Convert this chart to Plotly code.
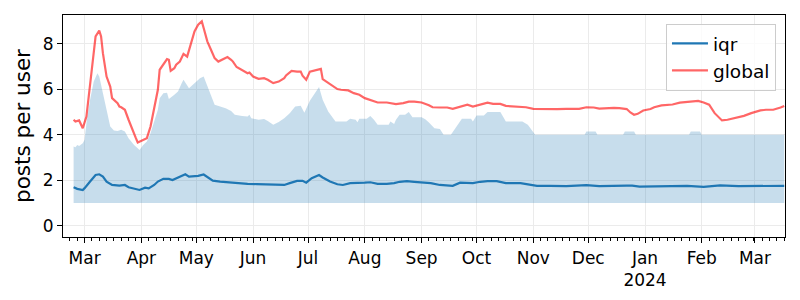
import pandas as pd
import plotly.graph_objects as go

# ---------------- data ----------------
global_dates = [
    "2023-02-23", "2023-02-24", "2023-02-26", "2023-02-27", "2023-02-28", "2023-03-02",
    "2023-03-04", "2023-03-06", "2023-03-07", "2023-03-09", "2023-03-10", "2023-03-11",
    "2023-03-13", "2023-03-15", "2023-03-16", "2023-03-19", "2023-03-20", "2023-03-21",
    "2023-03-23", "2023-03-25", "2023-03-27", "2023-03-29", "2023-03-30", "2023-04-01",
    "2023-04-04", "2023-04-06", "2023-04-08", "2023-04-10", "2023-04-11", "2023-04-13",
    "2023-04-15", "2023-04-16", "2023-04-17", "2023-04-19", "2023-04-20", "2023-04-22",
    "2023-04-24", "2023-04-26", "2023-04-28", "2023-04-30", "2023-05-02", "2023-05-04",
    "2023-05-05", "2023-05-07", "2023-05-09", "2023-05-11", "2023-05-13", "2023-05-15",
    "2023-05-18", "2023-05-20", "2023-05-21", "2023-05-23", "2023-05-26", "2023-05-29",
    "2023-05-30", "2023-06-01", "2023-06-04", "2023-06-07", "2023-06-09", "2023-06-12",
    "2023-06-15", "2023-06-18", "2023-06-19", "2023-06-22", "2023-06-25", "2023-06-27",
    "2023-06-28", "2023-06-30", "2023-07-02", "2023-07-05", "2023-07-08", "2023-07-09",
    "2023-07-12", "2023-07-15", "2023-07-17", "2023-07-19", "2023-07-23", "2023-07-26",
    "2023-07-29", "2023-08-01", "2023-08-05", "2023-08-08", "2023-08-13", "2023-08-17",
    "2023-08-18", "2023-08-22", "2023-08-25", "2023-08-28", "2023-09-01", "2023-09-05",
    "2023-09-07", "2023-09-11", "2023-09-15", "2023-09-18", "2023-09-22", "2023-09-26",
    "2023-09-29", "2023-10-03", "2023-10-07", "2023-10-10", "2023-10-14", "2023-10-17",
    "2023-10-21", "2023-10-25", "2023-10-28", "2023-11-01", "2023-11-05", "2023-11-08",
    "2023-11-14", "2023-11-19", "2023-11-23", "2023-11-26", "2023-11-30", "2023-12-04",
    "2023-12-07", "2023-12-11", "2023-12-15", "2023-12-18", "2023-12-22", "2023-12-24",
    "2023-12-26", "2023-12-28", "2023-12-31", "2024-01-04", "2024-01-06", "2024-01-10",
    "2024-01-14", "2024-01-16", "2024-01-20", "2024-01-24", "2024-01-27", "2024-01-30",
    "2024-02-02", "2024-02-05", "2024-02-08", "2024-02-12", "2024-02-15", "2024-02-19",
    "2024-02-24", "2024-02-28", "2024-03-04", "2024-03-07", "2024-03-11", "2024-03-15",
    "2024-03-17",
]
global_values = [
    4.66, 4.58, 4.63, 4.44, 4.29, 4.80,
    6.27, 7.74, 8.33, 8.58, 8.33, 7.59,
    6.56, 6.12, 5.61, 5.39, 5.24, 5.21,
    5.10, 4.66, 4.22, 3.85, 3.66, 3.74,
    3.85, 4.36, 5.10, 5.98, 6.86, 7.08,
    7.33, 7.30, 6.81, 6.93, 7.08, 7.22,
    7.56, 7.44, 8.03, 8.55, 8.84, 8.99,
    8.70, 8.11, 7.74, 7.37, 7.22, 7.30,
    7.42, 7.30, 7.22, 6.98, 6.86, 6.71,
    6.74, 6.56, 6.46, 6.49, 6.42, 6.27,
    6.34, 6.49, 6.61, 6.81, 6.78, 6.78,
    6.60, 6.42, 6.78, 6.83, 6.90, 6.45,
    6.27, 6.10, 6.01, 5.98, 5.95, 5.83,
    5.76, 5.61, 5.51, 5.42, 5.42, 5.39,
    5.35, 5.39, 5.46, 5.46, 5.42, 5.30,
    5.21, 5.20, 5.20, 5.14, 5.24, 5.32,
    5.24, 5.32, 5.41, 5.36, 5.36, 5.27,
    5.24, 5.21, 5.21, 5.14, 5.13, 5.15,
    5.13, 5.14, 5.14, 5.14, 5.21, 5.20,
    5.15, 5.18, 5.18, 5.17, 5.13, 4.98,
    4.88, 4.92, 5.07, 5.13, 5.21, 5.29,
    5.32, 5.33, 5.41, 5.45, 5.49, 5.49,
    5.42, 5.32, 4.95, 4.63, 4.66, 4.73,
    4.83, 4.95, 5.07, 5.10, 5.10, 5.20,
    5.27,
]

iqr_dates = [
    "2023-02-23", "2023-02-25", "2023-02-28", "2023-03-01", "2023-03-04", "2023-03-07",
    "2023-03-09", "2023-03-11", "2023-03-13", "2023-03-16", "2023-03-20", "2023-03-23",
    "2023-03-25", "2023-03-29", "2023-03-31", "2023-04-03", "2023-04-05", "2023-04-08",
    "2023-04-10", "2023-04-13", "2023-04-16", "2023-04-18", "2023-04-20", "2023-04-23",
    "2023-04-25", "2023-04-27", "2023-04-29", "2023-05-02", "2023-05-05", "2023-05-07",
    "2023-05-10", "2023-05-14", "2023-05-20", "2023-05-25", "2023-05-29", "2023-06-03",
    "2023-06-08", "2023-06-14", "2023-06-18", "2023-06-21", "2023-06-25", "2023-06-28",
    "2023-06-30", "2023-07-03", "2023-07-07", "2023-07-09", "2023-07-13", "2023-07-17",
    "2023-07-20", "2023-07-24", "2023-07-29", "2023-08-01", "2023-08-04", "2023-08-08",
    "2023-08-13", "2023-08-17", "2023-08-20", "2023-08-24", "2023-08-28", "2023-09-01",
    "2023-09-06", "2023-09-11", "2023-09-16", "2023-09-18", "2023-09-22", "2023-09-27",
    "2023-09-29", "2023-10-03", "2023-10-07", "2023-10-12", "2023-10-17", "2023-10-25",
    "2023-10-30", "2023-11-03", "2023-11-10", "2023-11-19", "2023-11-30", "2023-12-07",
    "2023-12-22", "2023-12-25", "2023-12-29", "2024-01-08", "2024-01-24", "2024-02-02",
    "2024-02-11", "2024-02-21", "2024-03-17",
]
iqr_median = [
    1.69, 1.62, 1.57, 1.65, 1.94, 2.23,
    2.26, 2.16, 1.94, 1.79, 1.76, 1.79,
    1.69, 1.62, 1.57, 1.67, 1.64, 1.79,
    1.94, 2.06, 2.06, 2.01, 2.09, 2.19,
    2.26, 2.16, 2.16, 2.19, 2.25, 2.13,
    1.98, 1.94, 1.89, 1.87, 1.84, 1.83,
    1.81, 1.78, 1.79, 1.87, 1.97, 1.97,
    1.89, 2.09, 2.23, 2.12, 1.94, 1.82,
    1.79, 1.87, 1.87, 1.89, 1.91, 1.84,
    1.84, 1.87, 1.93, 1.96, 1.93, 1.91,
    1.87, 1.79, 1.75, 1.75, 1.89, 1.89,
    1.87, 1.93, 1.96, 1.96, 1.87, 1.87,
    1.79, 1.75, 1.75, 1.74, 1.78, 1.74,
    1.76, 1.76, 1.72, 1.72, 1.75, 1.71,
    1.77, 1.74, 1.75,
]

band_dates = [
    "2023-02-23", "2023-02-24", "2023-02-25", "2023-02-26", "2023-02-28", "2023-03-01",
    "2023-03-02", "2023-03-04", "2023-03-06", "2023-03-08", "2023-03-09", "2023-03-11",
    "2023-03-13", "2023-03-15", "2023-03-17", "2023-03-19", "2023-03-21", "2023-03-23",
    "2023-03-25", "2023-03-28", "2023-03-30", "2023-03-31", "2023-04-02", "2023-04-04",
    "2023-04-06", "2023-04-08", "2023-04-10", "2023-04-11", "2023-04-13", "2023-04-15",
    "2023-04-16", "2023-04-19", "2023-04-21", "2023-04-23", "2023-04-24", "2023-04-27",
    "2023-04-30", "2023-05-03", "2023-05-05", "2023-05-07", "2023-05-09", "2023-05-11",
    "2023-05-14", "2023-05-17", "2023-05-20", "2023-05-22", "2023-05-26", "2023-05-29",
    "2023-05-30", "2023-05-31", "2023-06-04", "2023-06-07", "2023-06-09", "2023-06-12",
    "2023-06-15", "2023-06-18", "2023-06-21", "2023-06-24", "2023-06-27", "2023-06-29",
    "2023-07-02", "2023-07-05", "2023-07-07", "2023-07-09", "2023-07-12", "2023-07-16",
    "2023-07-19", "2023-07-22", "2023-07-24", "2023-07-27", "2023-07-28", "2023-07-29",
    "2023-08-02", "2023-08-04", "2023-08-06", "2023-08-08", "2023-08-14", "2023-08-15",
    "2023-08-17", "2023-08-18", "2023-08-20", "2023-08-23", "2023-08-25", "2023-08-27",
    "2023-09-01", "2023-09-03", "2023-09-05", "2023-09-08", "2023-09-11", "2023-09-13",
    "2023-09-17", "2023-09-20", "2023-09-23", "2023-09-28", "2023-09-29", "2023-10-01",
    "2023-10-05", "2023-10-07", "2023-10-14", "2023-10-17", "2023-10-26", "2023-10-29",
    "2023-11-02", "2023-11-29", "2023-11-30", "2023-12-05", "2023-12-06", "2023-12-20",
    "2023-12-21", "2023-12-26", "2023-12-27", "2024-01-25", "2024-01-26", "2024-01-31",
    "2024-02-01", "2024-03-17",
]
band_upper = [
    3.48, 3.45, 3.55, 3.50, 3.63, 3.78,
    4.51, 5.54, 6.34, 6.71, 6.56, 5.83,
    4.95, 4.36, 4.19, 4.17, 4.22, 4.14,
    3.85, 3.55, 3.41, 3.33, 3.55, 3.70,
    4.07, 4.58, 5.10, 5.61, 5.83, 5.85,
    5.57, 5.76, 5.90, 6.27, 6.42, 6.05,
    6.27, 6.49, 6.56, 6.12, 5.68, 5.32,
    5.24, 5.17, 5.05, 4.88, 4.83, 4.80,
    4.88, 4.73, 4.66, 4.69, 4.61, 4.44,
    4.56, 4.73, 4.95, 5.24, 5.28, 4.97,
    5.50, 5.83, 6.10, 5.54, 5.02, 4.58,
    4.58, 4.58, 4.70, 4.66, 4.55, 4.70,
    4.70, 4.83, 4.66, 4.44, 4.44, 4.58,
    4.47, 4.66, 4.88, 4.88, 5.00, 4.77,
    4.77, 4.68, 4.54, 4.29, 4.25, 4.00,
    4.00, 4.36, 4.70, 4.70, 4.58, 4.85,
    4.85, 5.00, 5.00, 4.58, 4.58, 4.44,
    4.00, 4.00, 4.14, 4.14, 4.00, 4.00,
    4.14, 4.14, 4.00, 4.00, 4.14, 4.14,
    4.00, 4.00,
]
band_lower = 1.0

month_ticks = [
    "2023-03-01", "2023-04-01", "2023-05-01", "2023-06-01", "2023-07-01", "2023-08-01",
    "2023-09-01", "2023-10-01", "2023-11-01", "2023-12-01", "2024-01-01", "2024-02-01",
    "2024-03-01",
]
month_labels = ["Mar", "Apr", "May", "Jun", "Jul", "Aug", "Sep", "Oct", "Nov", "Dec",
                "Jan<br>2024", "Feb", "Mar"]
y_ticks = [0, 2, 4, 6, 8]

# ---------------- figure ----------------
FONT = "DejaVu Sans"
x_range = ["2023-02-17 05:00", "2024-03-17 10:00"]

# minor ticks on day 1, 5, 9, ... of each month (matplotlib day locator look)
minor_vals = [d.strftime("%Y-%m-%d") for d in pd.date_range("2023-02-01", "2024-03-31", freq="D")
              if (d.day - 1) % 4 == 0 and d.day <= 29]

band_x = list(band_dates) + list(reversed(band_dates))
band_y = list(band_upper) + [band_lower] * len(band_dates)

fig = go.Figure()
fig.add_trace(go.Scatter(
    x=band_x, y=band_y, fill="toself", mode="lines",
    line=dict(width=0), fillcolor="rgba(31,119,180,0.25)",
    showlegend=False, hoverinfo="skip",
))
fig.add_trace(go.Scatter(
    x=iqr_dates, y=iqr_median, mode="lines", name="iqr",
    line=dict(color="#1f77b4", width=2.2),
))
fig.add_trace(go.Scatter(
    x=global_dates, y=global_values, mode="lines", name="global",
    line=dict(color="rgba(255,0,0,0.6)", width=2.2),
))

fig.update_layout(
    width=800, height=300,
    margin=dict(l=63, r=15, t=15, b=63, autoexpand=False),
    paper_bgcolor="white", plot_bgcolor="white",
    font=dict(family=FONT, size=17, color="black"),
    legend=dict(
        x=0.9875, y=0.96, xanchor="right", yanchor="top",
        bgcolor="rgba(255,255,255,0.8)", bordercolor="#cccccc", borderwidth=1,
        font=dict(family=FONT, size=18.5, color="black"),
        itemwidth=36, tracegroupgap=2,
    ),
)
fig.update_xaxes(
    type="date", range=x_range, automargin=False,
    tickmode="array", tickvals=month_ticks, ticktext=month_labels,
    ticks="outside", ticklen=5, tickwidth=1, tickcolor="black",
    showline=True, linecolor="black", linewidth=1.2, mirror=True,
    showgrid=True, gridcolor="#ebebeb", gridwidth=1,
    zeroline=False,
    minor=dict(tickmode="array", tickvals=minor_vals, ticks="outside", ticklen=2.5,
               tickcolor="black", showgrid=False),
    tickfont=dict(family=FONT, size=17, color="black"),
)
fig.update_yaxes(
    range=[-0.5, 9.27], automargin=False,
    tickmode="array", tickvals=y_ticks,
    ticks="outside", ticklen=5, tickwidth=1, tickcolor="black",
    showline=True, linecolor="black", linewidth=1.2, mirror=True,
    showgrid=True, gridcolor="#ebebeb", gridwidth=1,
    zeroline=False,
    title=dict(text="posts per user", font=dict(family=FONT, size=21.5, color="black"), standoff=6),
    tickfont=dict(family=FONT, size=17, color="black"),
)

fig.write_html(
    "out.html",
    config={"displayModeBar": False},
    post_script="document.body.style.margin='0';document.body.style.overflow='hidden';",
)
